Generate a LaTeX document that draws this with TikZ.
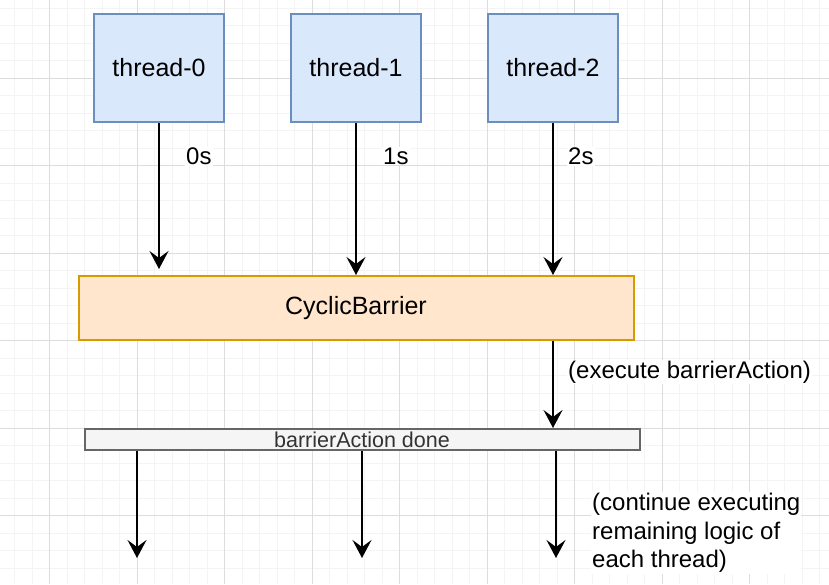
\documentclass[tikz,border=0pt]{standalone}
\usepackage{fontspec}
\setmainfont{Liberation Sans}
\usepackage{tikz}
\usetikzlibrary{
  arrows.meta,
  positioning
}
\definecolor{cbblue}{HTML}{6C8EBF}
\definecolor{cbbluefill}{HTML}{DAE8FC}
\definecolor{cborange}{HTML}{D79B00}
\definecolor{cborangefill}{HTML}{FFE6CC}
\definecolor{cbgray}{HTML}{666666}
\definecolor{cbgrayfill}{HTML}{F5F5F5}
\definecolor{cbtext}{HTML}{333333}
\definecolor{cbgridmajor}{HTML}{DDDDDD}
\definecolor{cbgridminor}{HTML}{F4F4F4}
\tikzset{
  cbThread/.style={
    rectangle,
    draw=cbblue,
    fill=cbbluefill,
    line width=2pt,
    minimum width=130pt,
    minimum height=108pt,
    font=\fontsize{25}{30}\selectfont
  },
  cbBarrier/.style={
    rectangle,
    draw=cborange,
    fill=cborangefill,
    line width=2pt,
    minimum width=555pt,
    minimum height=64pt,
    font=\fontsize{25}{30}\selectfont
  },
  cbDone/.style={
    rectangle,
    draw=cbgray,
    fill=cbgrayfill,
    line width=2pt,
    minimum width=555pt,
    minimum height=21pt,
    inner sep=0pt,
    text=cbtext,
    font=\fontsize{21.5}{24}\selectfont
  },
  cbLabel/.style={
    fill=white,
    inner sep=1pt,
    align=left,
    font=\fontsize{24}{28.5}\selectfont
  },
  cbArrow/.style={
    -{Stealth[length=18pt, width=19pt, inset=7pt]},
    line width=2pt,
    draw=black
  },
  cbGridMinor/.style={draw=cbgridminor, line width=1pt},
  cbGridMajor/.style={draw=cbgridmajor, line width=1pt}
}

\begin{document}
\begin{tikzpicture}[x=1pt, y=-1pt, node distance=65pt]
  \useasboundingbox (0,0) rectangle (829,584);

  % background grid
  \begin{scope}
    \clip (0,0) rectangle (829,584);
    \foreach \i in {0,...,48} {
      \draw[cbGridMinor] ({-3+17.5*\i},0) -- ({-3+17.5*\i},584);
    }
    \foreach \i in {0,...,34} {
      \draw[cbGridMinor] (0,{-9.5+17.5*\i}) -- (829,{-9.5+17.5*\i});
    }
    \foreach \i in {0,...,10} {
      \draw[cbGridMajor] ({-38+87.5*\i},0) -- ({-38+87.5*\i},584);
    }
    \foreach \i in {0,...,6} {
      \draw[cbGridMajor] (0,{-9.5+87.5*\i}) -- (829,{-9.5+87.5*\i});
    }
  \end{scope}

  \node[cbThread] (t0) at (159,68) {thread-0};
  \node[cbThread, right=of t0] (t1) {thread-1};
  \node[cbThread, right=of t1] (t2) {thread-2};
  \node[cbBarrier, below=152pt of t1] (barrier) {\raisebox{-3pt}{CyclicBarrier}};
  \node[cbDone, below=87pt of barrier, xshift=6pt] (done) {barrierAction done};

  \coordinate (out0) at (137,558);
  \coordinate (out1) at (362,558);
  \coordinate (out2) at (556,558);

  \draw[cbArrow, shorten >=6pt] (t0) -- (t0 |- barrier.north);
  \draw[cbArrow] (t1) -- (t1 |- barrier.north);
  \draw[cbArrow] (t2) -- (t2 |- barrier.north);
  \draw[cbArrow] (barrier.south -| t2) -- (done.north -| t2);
  \draw[cbArrow] (done.south -| out0) -- (out0);
  \draw[cbArrow] (done.south -| out1) -- (out1);
  \draw[cbArrow] (done.south -| out2) -- (out2);

  \node[cbLabel, anchor=west] (l0) at (185,156) {0s};
  \node[cbLabel, anchor=west] (l1) at (382,156) {1s};
  \node[cbLabel, anchor=west] (l2) at (567,156) {2s};
  \node[cbLabel, anchor=west] (lexec) at (567,372) {(execute barrierAction)};
  \node[cbLabel, anchor=west] (lcont) at (591,533)
    {(continue executing\\remaining logic of\\each thread)};
\end{tikzpicture}
\end{document}
